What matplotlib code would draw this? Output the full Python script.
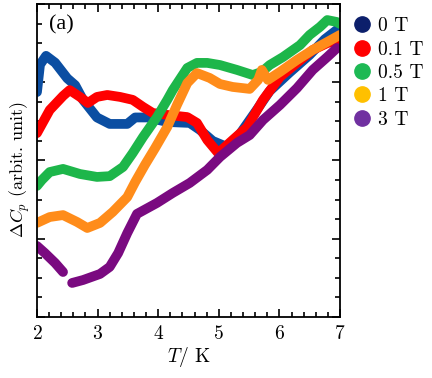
import numpy as np
import matplotlib
matplotlib.use('Agg')
import matplotlib.pyplot as plt
from matplotlib.lines import Line2D
from matplotlib.ticker import MultipleLocator, NullFormatter

plt.rcParams['mathtext.fontset'] = 'cm'
plt.rcParams['font.family'] = ['cmr10', 'DejaVu Serif']
plt.rcParams['axes.formatter.use_mathtext'] = True

# 数据
T_0 = [2.0, 2.05, 2.15, 2.3, 2.5, 2.63, 2.76, 2.99, 3.2, 3.49, 3.62, 3.82, 4.15, 4.52,
       4.69, 4.9, 5.13, 5.35, 5.63, 5.84, 6.17, 6.5, 6.75, 7.0]
C_0 = [11.5, 12.9, 13.35, 13.0, 12.2, 11.85, 11.1, 10.2, 9.87, 9.87, 10.2, 10.2, 9.97, 9.92,
       9.56, 9.0, 8.7, 9.36, 10.6, 11.55, 12.5, 13.4, 14.2, 14.8]

T_01 = [2.0, 2.21, 2.43, 2.54, 2.71, 2.84, 2.99, 3.16, 3.37, 3.58, 3.75, 3.91, 4.15, 4.48,
        4.64, 4.81, 4.99, 5.23, 5.47, 5.73, 6.01, 6.29, 6.55, 6.79, 7.0]
C_01 = [9.4, 10.58, 11.3, 11.6, 11.25, 10.94, 11.25, 11.35, 11.25, 11.1, 10.74, 10.43, 10.33, 10.22,
        9.92, 9.05, 8.38, 9.05, 9.71, 11.1, 12.27, 12.99, 13.65, 14.0, 14.16]

T_05 = [2.0, 2.08, 2.21, 2.43, 2.71, 2.99, 3.2, 3.42, 3.58, 3.75, 3.98, 4.15, 4.24, 4.48,
        4.64, 4.81, 5.02, 5.3, 5.56, 5.71, 5.84, 6.06, 6.34, 6.5, 6.67, 6.79, 6.95, 7.0]
C_05 = [6.7, 7.0, 7.41, 7.57, 7.31, 7.16, 7.2, 7.67, 8.38, 9.2, 10.22, 11.1, 11.6, 12.73,
        12.99, 12.99, 12.88, 12.63, 12.37, 12.53, 12.88, 13.29, 13.9, 14.42, 14.83, 15.18, 15.08, 14.98]

T_1 = [2.0, 2.21, 2.43, 2.66, 2.83, 3.04, 3.25, 3.49, 3.62, 3.78, 3.95, 4.15, 4.31, 4.48,
       4.64, 4.85, 5.02, 5.23, 5.51, 5.65, 5.71, 5.81, 6.01, 6.29, 6.55, 6.79, 7.0]
C_1 = [4.81, 5.11, 5.21, 4.86, 4.55, 4.81, 5.37, 6.13, 6.9, 7.77, 8.64, 9.71, 10.84, 11.96,
       12.47, 12.22, 11.91, 11.76, 11.66, 12.12, 12.63, 12.12, 12.53, 13.14, 13.65, 14.06, 14.42]

T_3 = [2.0, 2.13, 2.3, 2.43, 2.5, 2.58, 2.76, 3.04, 3.2, 3.34, 3.49, 3.65, 3.98, 4.24,
       4.52, 4.81, 5.02, 5.3, 5.51, 5.73, 6.01, 6.29, 6.55, 6.79, 6.95]
C_3 = [3.63, 3.27, 2.76, 2.3, np.nan, 1.74, 1.89, 2.2, 2.56, 3.27, 4.29, 5.27, 5.83, 6.34,
       6.85, 7.52, 8.18, 8.9, 9.3, 10.07, 10.84, 11.7, 12.63, 13.29, 13.75]

labels = ['0 T', '0.1 T', '0.5 T', '1 T', '3 T']
line_colors = ['#0b4ea2', '#ff0000', '#1db64a', '#ff8c1a', '#7a0a80']
legend_colors = ['#0c1f6b', '#ff0000', '#1db954', '#ffc000', '#7030a0']

fig = plt.figure(figsize=(4.32, 3.78), dpi=100)
ax = fig.add_axes([0.0856, 0.1614, 0.7014, 0.828])

series = [(T_0, C_0), (T_01, C_01), (T_05, C_05), (T_1, C_1), (T_3, C_3)]
for (t, c), col in zip(series, line_colors):
    ax.plot(t, c, color=col, lw=7, solid_capstyle='round', solid_joinstyle='round')

ax.set_xlim(2, 7)
ax.set_ylim(0, 16)
ax.xaxis.set_major_locator(MultipleLocator(1))
ax.xaxis.set_minor_locator(MultipleLocator(0.2))
ax.yaxis.set_major_locator(MultipleLocator(4))
ax.yaxis.set_minor_locator(MultipleLocator(1))
ax.yaxis.set_major_formatter(NullFormatter())
ax.tick_params(which='both', direction='in', top=True, right=True, width=1.2)
ax.tick_params(which='major', length=6, labelsize=14, pad=6)
ax.tick_params(which='minor', length=3.5)
for s in ax.spines.values():
    s.set_linewidth(1.3)

ax.set_xlabel(r'$T$/ K', fontsize=14, labelpad=1)
ax.set_ylabel(r'$\Delta C_p$ (arbit. unit)', fontsize=13)
ax.yaxis.set_label_coords(-0.015, 0.47)

ax.text(0.04, 0.965, '(a)', transform=ax.transAxes, fontsize=16,
        family='Liberation Serif', va='top', ha='left')

handles = [Line2D([], [], ls='', marker='o', ms=11, color=c) for c in legend_colors]
fig.legend(handles, labels, loc='upper left', bbox_to_anchor=(0.8, 0.975),
           frameon=False, fontsize=14, handletextpad=0.35, labelspacing=0.28,
           handlelength=0.9, borderaxespad=0)

fig.savefig('out.png', dpi=100)
